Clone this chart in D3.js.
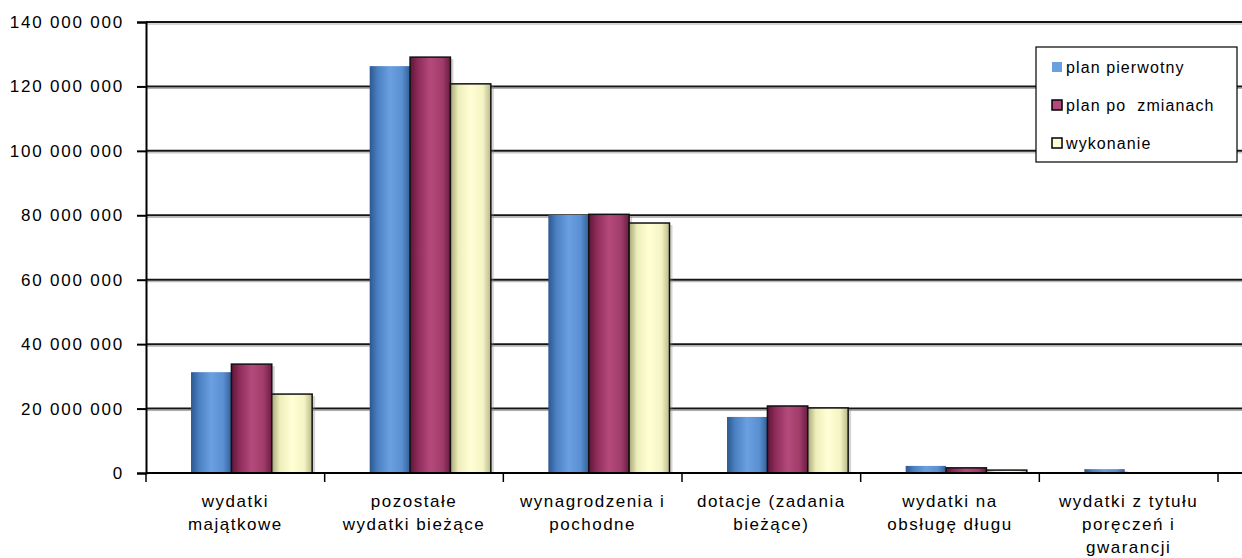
<!DOCTYPE html>
<html>
<head>
<meta charset="utf-8">
<script src="https://cdn.jsdelivr.net/npm/d3@7"></script>
<style>
  body { margin: 0; background: #fff; }
  text { font-family: "Liberation Sans", Arial, sans-serif; fill: #000; white-space: pre; }
</style>
</head>
<body>
<svg id="mainSvg" width="1242" height="558"></svg>
<script>
// categories and series
let categories = [
    ['wydatki', 'majątkowe'],
    ['pozostałe', 'wydatki bieżące'],
    ['wynagrodzenia i', 'pochodne'],
    ['dotacje (zadania', 'bieżące)'],
    ['wydatki na', 'obsługę długu'],
    ['wydatki z tytułu', 'poręczeń i', 'gwarancji']
]
let seriesNames = ['plan pierwotny', 'plan po  zmianach', 'wykonanie']
let planPierwotny = [31300000, 126300000, 80100000, 17400000, 2200000, 1200000]
let planPoZmianach = [33800000, 129100000, 80300000, 20800000, 1600000, 0]
let wykonanie = [24500000, 120800000, 77600000, 20200000, 900000, 0]
let yTicks = [0, 20000000, 40000000, 60000000, 80000000, 100000000, 120000000, 140000000]

let values = [planPierwotny, planPoZmianach, wykonanie]

let svg = d3.select('#mainSvg')
let defs = svg.append('defs')

let plotLeft = 146, plotRight = 1218, plotTop = 22, plotBottom = 473

let x0 = d3.scaleBand().domain(d3.range(categories.length)).range([plotLeft, plotRight]).padding(0)
// bars sit a little right of the category centre, as in the original
let x1 = d3.scaleBand().domain(d3.range(seriesNames.length))
    .range([x0.bandwidth() * 0.252, x0.bandwidth() * 0.93]).padding(0)
let y = d3.scaleLinear().domain([0, 140000000]).range([plotBottom, plotTop])

// gradients, cylinder look
let grads = [
    ['#2c5890', '#4b80c2', '#6a9fe0', '#5a8fd2', '#345f98'],
    ['#5e1638', '#8e2c5a', '#b44a7c', '#a03c6a', '#6a1c42'],
    ['#a8a878', '#eeeebb', '#ffffd6', '#f4f4c4', '#b8b888']
]
grads.forEach(function (g, i) {
    let lg = defs.append('linearGradient').attr('id', 'grad-' + i)
        .attr('x1', '0%').attr('x2', '100%').attr('y1', '0%').attr('y2', '0%')
    let offs = [0, 0.2, 0.5, 0.8, 1]
    g.forEach(function (c, k) {
        lg.append('stop').attr('offset', offs[k] * 100 + '%').attr('stop-color', c)
    })
})

// gridlines
let fmt = function (d) {
    return d3.format(',')(d).replace(/,/g, ' ')
}
svg.append('g').selectAll('line.shadow')
    .data(yTicks.slice(1))
    .enter().append('line')
    .attr('x1', plotLeft).attr('x2', 1242)
    .attr('y1', d => y(d) + 2).attr('y2', d => y(d) + 2)
    .attr('stroke', '#aaa').attr('stroke-width', 1)
svg.append('g').selectAll('line.grid')
    .data(yTicks.slice(1))
    .enter().append('line')
    .attr('x1', plotLeft).attr('x2', 1242)
    .attr('y1', d => y(d)).attr('y2', d => y(d))
    .attr('stroke', '#151515').attr('stroke-width', 2)

// bars
let groups = svg.append('g').selectAll('g')
    .data(categories)
    .enter().append('g')
    .attr('transform', (d, i) => 'translate(' + x0(i) + ',0)')

let barData = (d, i) => values.map((s, k) => ({ k: k, v: s[i] })).filter(o => o.v > 0)

// soft shadow on the right of each bar
groups.selectAll('rect.shadow')
    .data(barData)
    .enter().append('rect')
    .attr('x', d => x1(d.k) + 3)
    .attr('y', d => y(d.v) + 2)
    .attr('width', x1.bandwidth())
    .attr('height', d => plotBottom - y(d.v) - 2)
    .attr('fill', '#888').attr('opacity', 0.35)

groups.selectAll('rect.bar')
    .data(barData)
    .enter().append('rect')
    .attr('x', d => x1(d.k))
    .attr('y', d => y(d.v))
    .attr('width', x1.bandwidth())
    .attr('height', d => plotBottom - y(d.v))
    .attr('fill', d => 'url(#grad-' + d.k + ')')
    .attr('stroke', d => d.k === 0 ? 'none' : '#111')
    .attr('stroke-width', 1.5)

// y axis
let yAxis = d3.axisLeft(y).tickValues(yTicks).tickFormat(fmt).tickSize(9).tickPadding(13)
let ya = svg.append('g').attr('transform', 'translate(' + plotLeft + ',0)').call(yAxis)
ya.select('.domain').attr('stroke', '#000').attr('stroke-width', 2)
ya.selectAll('.tick line').attr('stroke', '#000').attr('stroke-width', 2)
ya.selectAll('.tick text')
    .style('font-size', '17px')
    .style('letter-spacing', '1.8px')
    .attr('fill', '#000')

// x axis
svg.append('line').attr('x1', plotLeft).attr('x2', 1242).attr('y1', plotBottom).attr('y2', plotBottom)
    .attr('stroke', '#000').attr('stroke-width', 2)
svg.append('g').selectAll('line')
    .data(d3.range(categories.length + 1))
    .enter().append('line')
    .attr('x1', i => plotLeft + i * x0.step()).attr('x2', i => plotLeft + i * x0.step())
    .attr('y1', plotBottom).attr('y2', plotBottom + 9)
    .attr('stroke', '#000').attr('stroke-width', 1.5)

let labels = svg.append('g').selectAll('text')
    .data(categories)
    .enter().append('text')
    .attr('x', (d, i) => x0(i) + x0.bandwidth() / 2)
    .attr('y', 507)
    .attr('text-anchor', 'middle')
    .style('font-size', '17px')
    .style('letter-spacing', '1.5px')
labels.selectAll('tspan')
    .data(d => d)
    .enter().append('tspan')
    .attr('x', function () { return d3.select(this.parentNode).attr('x') })
    .attr('dy', (d, i) => i === 0 ? 0 : 23)
    .text(d => d)

// legend
let legend = svg.append('g').attr('transform', 'translate(1036,47)')
legend.append('rect').attr('width', 201).attr('height', 115)
    .attr('fill', '#fff').attr('stroke', '#000').attr('stroke-width', 1.2)
let items = legend.selectAll('g.item')
    .data(seriesNames)
    .enter().append('g')
    .attr('transform', (d, i) => 'translate(16,' + (20 + i * 38) + ')')
items.append('rect')
    .attr('x', 0).attr('y', -5).attr('width', 10).attr('height', 10)
    .attr('fill', (d, i) => grads[i][2])
    .attr('stroke', (d, i) => i === 0 ? 'none' : '#000')
    .attr('stroke-width', 1.5)
items.append('text')
    .attr('x', 14).attr('y', 6)
    .style('font-size', '16px')
    .style('letter-spacing', '1.1px')
    .text(d => d)
</script>
</body>
</html>
